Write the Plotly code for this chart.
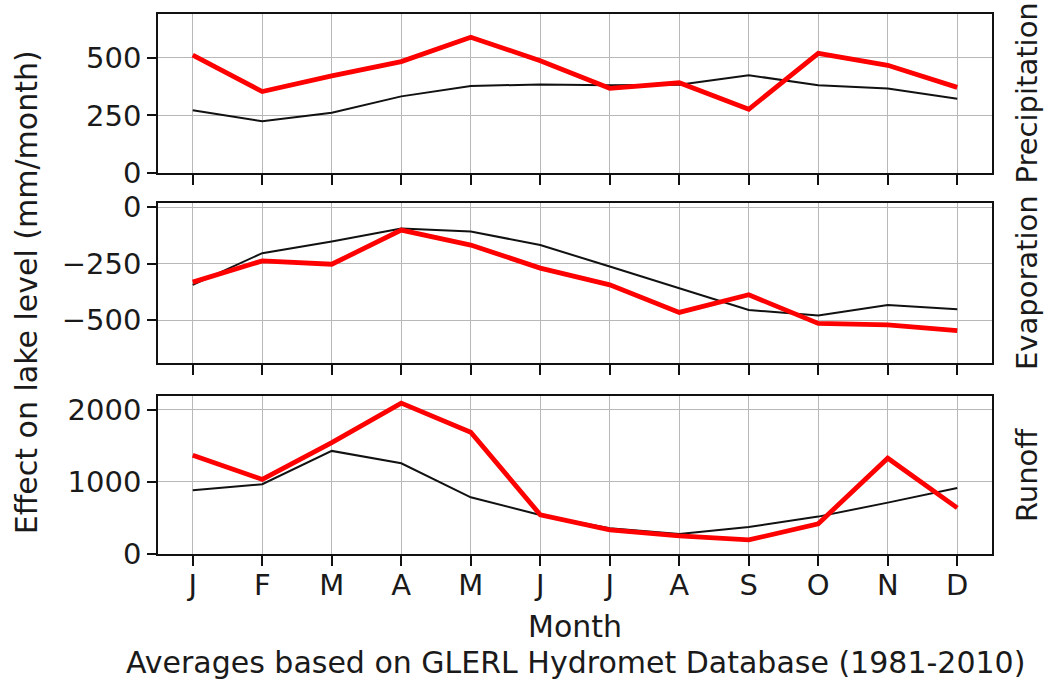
import plotly.graph_objects as go
from plotly.subplots import make_subplots

# Monthly water-balance components for the lake (mm/month)
months = ["J", "F", "M", "A", "M", "J", "J", "A", "S", "O", "N", "D"]

precip_recent = [512, 354, 422, 484, 590, 488, 368, 392, 277, 520, 468, 372]
precip_avg = [273, 225, 262, 333, 378, 385, 381, 383, 425, 381, 367, 323]

evap_recent = [-332, -238, -253, -102, -168, -270, -344, -466, -388, -515, -521, -547]
evap_avg = [-344, -204, -152, -95, -108, -168, -263, -360, -455, -480, -433, -452]

runoff_recent = [1372, 1035, 1545, 2095, 1690, 545, 335, 252, 195, 420, 1330, 640]
runoff_avg = [885, 968, 1431, 1259, 787, 542, 356, 278, 375, 519, 713, 917]

panel_names = ["Precipitation", "Evaporation", "Runoff"]
y_ranges = [[0, 691], [-690, 18], [0, 2193]]
y_ticks = [[0, 250, 500], [0, -250, -500], [0, 1000, 2000]]

x = list(range(len(months)))

fig = make_subplots(rows=3, cols=1, shared_xaxes=True, vertical_spacing=0.0)

series = [
    (precip_avg, precip_recent),
    (evap_avg, evap_recent),
    (runoff_avg, runoff_recent),
]
for row, (avg, recent) in enumerate(series, start=1):
    fig.add_trace(go.Scatter(x=x, y=avg, mode="lines",
                             line=dict(color="#111111", width=2),
                             showlegend=False), row=row, col=1)
    fig.add_trace(go.Scatter(x=x, y=recent, mode="lines",
                             line=dict(color="#ff0000", width=4.8),
                             showlegend=False), row=row, col=1)

font_family = "DejaVu Sans"
font_color = "#1a1a1a"
tick_font = dict(family=font_family, size=29, color=font_color)
label_font = dict(family=font_family, size=30, color=font_color)
side_font = dict(family=font_family, size=29, color=font_color)

domains = [[0.7056, 1.0], [0.3537, 0.65], [0.0, 0.2926]]
for i in range(3):
    yname = "yaxis" if i == 0 else f"yaxis{i + 1}"
    xname = "xaxis" if i == 0 else f"xaxis{i + 1}"
    fig.layout[yname].update(
        domain=domains[i], range=y_ranges[i], tickvals=y_ticks[i],
        tickformat="d", showgrid=True, gridcolor="#b8b8b8", gridwidth=1.2,
        zeroline=False, showline=True, linecolor="#111111", linewidth=1.6,
        mirror=True, ticks="outside", ticklen=9, tickwidth=1.5,
        tickcolor="#111111", tickfont=tick_font, automargin=False,
    )
    fig.layout[xname].update(
        range=[-0.5, 11.5], tickvals=x, ticktext=months,
        showgrid=True, gridcolor="#b8b8b8", gridwidth=1.2,
        zeroline=False, showline=True, linecolor="#111111", linewidth=1.6,
        mirror=True, ticks="outside", ticklen=10, tickwidth=1.5,
        tickcolor="#111111", tickfont=tick_font, automargin=False,
        showticklabels=(i == 2), ticklabelstandoff=-6,
    )

annotations = []
# Panel names on the right-hand side
for i, name in enumerate(panel_names):
    d = domains[i]
    annotations.append(dict(
        text=name, xref="paper", yref="paper", x=1.042, y=(d[0] + d[1]) / 2,
        xanchor="center", yanchor="middle", textangle=-90, showarrow=False,
        font=side_font,
    ))
# Shared y-axis title
annotations.append(dict(
    text="Effect on lake level (mm/month)", xref="paper", yref="paper",
    x=-0.158, y=0.485, xanchor="center", yanchor="middle", textangle=-90,
    showarrow=False, font=label_font,
))
# x-axis title and data source note
annotations.append(dict(
    text="Month", xref="paper", yref="paper", x=0.5, y=-0.135,
    xanchor="center", yanchor="middle", showarrow=False, font=label_font,
))
annotations.append(dict(
    text="Averages based on GLERL Hydromet Database (1981-2010)",
    xref="paper", yref="paper", x=0.5, y=-0.2, xanchor="center",
    yanchor="middle", showarrow=False, font=label_font,
))

fig.update_layout(
    width=1044, height=685,
    margin=dict(l=158, r=52, t=14, b=131),
    paper_bgcolor="white", plot_bgcolor="white",
    annotations=annotations,
)

fig.write_html("out.html")
